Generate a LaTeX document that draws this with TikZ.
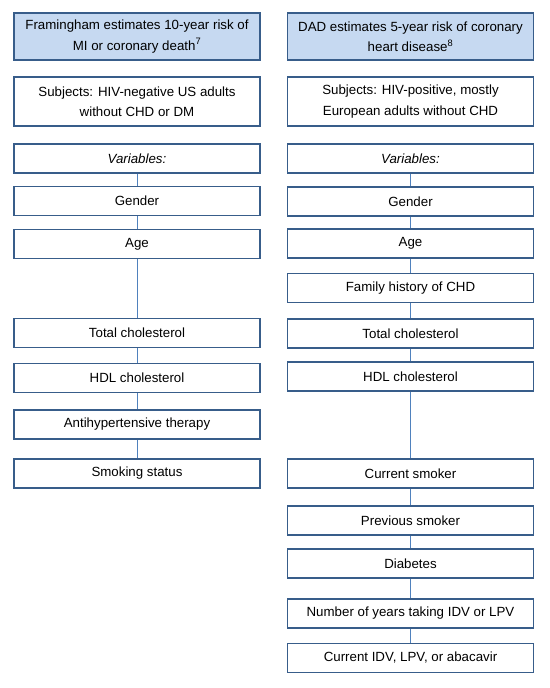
\documentclass[tikz,border=0pt]{standalone}
\usepackage{fontspec}
\setmainfont{Liberation Sans}
\begin{document}
\begin{tikzpicture}[x=1pt,y=-1pt,
  box/.style={draw=bordc,line width=1.8pt,fill=white,minimum width=246pt,minimum height=29pt,inner sep=0pt,align=center,font=\fontsize{13.3}{20.5}\selectfont},
  titlebox/.style={box,fill=titlec,minimum height=47pt},
  subjbox/.style={box,minimum height=49pt},
  conn/.style={draw=connc,line width=0.7pt}]
\definecolor{bordc}{HTML}{385D8A}
\definecolor{titlec}{HTML}{C6D9F1}
\definecolor{connc}{HTML}{4F81BD}
\useasboundingbox (0,0) rectangle (549,688);
\fill[white] (0,0) rectangle (549,688);
% left column
\node[titlebox] (t1) at (137,36.5) {Framingham estimates 10-year risk of\\MI or coronary death\textsuperscript{7}};
\node[subjbox] (s1) at (137,101.5) {Subjects: HIV-negative US adults\\without CHD or DM};
\node[box] (v1) at (137,158.5) {\itshape Variables:};
\node[box] (g1) at (137,201) {Gender};
\node[box] (a1) at (137,244) {Age};
\node[box] (tc1) at (137,333) {Total cholesterol};
\node[box] (h1) at (137,378) {HDL cholesterol};
\node[box] (ah1) at (137,424.5) {Antihypertensive therapy};
\node[box] (sm1) at (137,473.5) {Smoking status};
% right column
\node[titlebox] (t2) at (410.5,36.5) {DAD estimates 5-year risk of coronary\\heart disease\textsuperscript{8}};
\node[subjbox] (s2) at (410.5,101.5) {Subjects: HIV-positive, mostly\\European adults without CHD};
\node[box] (v2) at (410.5,158.5) {\itshape Variables:};
\node[box] (g2) at (410.5,201.5) {Gender};
\node[box] (a2) at (410.5,243.5) {Age};
\node[box] (f2) at (410.5,288) {Family history of CHD};
\node[box] (tc2) at (410.5,333.5) {Total cholesterol};
\node[box] (h2) at (410.5,376.5) {HDL cholesterol};
\node[box] (cs2) at (410.5,473.5) {Current smoker};
\node[box] (ps2) at (410.5,520.5) {Previous smoker};
\node[box] (d2) at (410.5,563.5) {Diabetes};
\node[box] (n2) at (410.5,613.5) {Number of years taking IDV or LPV};
\node[box] (c2) at (410.5,658) {Current IDV, LPV, or abacavir};
% connectors
\draw[conn] (v1) -- (g1);
\draw[conn] (g1) -- (a1);
\draw[conn] (a1) -- (tc1);
\draw[conn] (tc1) -- (h1);
\draw[conn] (h1) -- (ah1);
\draw[conn] (ah1) -- (sm1);
\draw[conn] (v2) -- (g2);
\draw[conn] (g2) -- (a2);
\draw[conn] (a2) -- (f2);
\draw[conn] (f2) -- (tc2);
\draw[conn] (tc2) -- (h2);
\draw[conn] (h2) -- (cs2);
\draw[conn] (cs2) -- (ps2);
\draw[conn] (ps2) -- (d2);
\draw[conn] (d2) -- (n2);
\draw[conn] (n2) -- (c2);
\end{tikzpicture}
\end{document}
